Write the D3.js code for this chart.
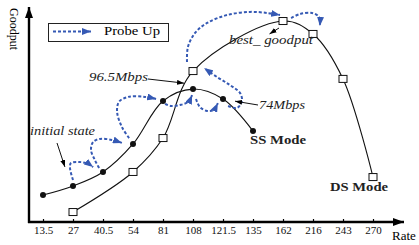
<!DOCTYPE html>
<html>
<head>
<meta charset="utf-8">
<script src="https://cdn.jsdelivr.net/npm/d3@7"></script>
<style>
	body { margin: 0; background: #fff; }
	svg { display: block; }
	text { font-family: "Liberation Serif", serif; }
</style>
</head>
<body>
<div id="chart"></div>
<script>
// rate categories on the x axis (Mbps)
var rates = ["13.5", "27", "40.5", "54", "81", "108", "121.5", "135", "162", "216", "243", "270"];

// SS mode: single stream
var ssRates = ["13.5", "27", "40.5", "54", "81", "108", "121.5", "135"];
var ssGoodput = [12.7, 17.0, 23.6, 36.8, 57.1, 62.7, 58.0, 42.9];

// DS mode: dual stream
var dsRates = ["27", "54", "81", "108", "162", "216", "243", "270"];
var dsGoodput = [4.7, 23.6, 39.6, 71.2, 94.8, 88.7, 67.5, 21.2];

// probe-up arrows, waypoints as [rate index, goodput]
var probes = [
	[[1.0, 19.8], [0.9, 25.5], [0.93, 27.8], [1.23, 28.3], [1.5, 27.4], [1.67, 25.9]],
	[[1.87, 25.5], [1.73, 29.2], [1.6, 34.0], [1.67, 37.7], [1.9, 39.2], [2.3, 38.7], [2.63, 37.3]],
	[[2.87, 39.6], [2.63, 44.8], [2.47, 51.9], [2.53, 56.6], [2.83, 59.0], [3.4, 59.0], [3.77, 58.0]],
	[[4.07, 55.7], [4.27, 54.7], [4.57, 55.2], [4.83, 56.6], [4.97, 59.9]],
	[[5.1, 58.0], [5.23, 54.2], [5.47, 52.4], [5.67, 52.8], [5.83, 56.1]],
	[[6.17, 54.7], [6.47, 53.8], [6.63, 57.1], [6.57, 60.8], [6.23, 64.6], [5.8, 68.4], [5.37, 72.6]],
	[[4.8, 75.5], [4.83, 82.5], [5.07, 89.2], [5.47, 93.9], [6.13, 97.6], [6.9, 99.1], [7.47, 98.6], [7.9, 97.6]],
	[[8.27, 96.2], [8.57, 98.1], [8.97, 98.6], [9.2, 96.7], [9.23, 92.5]]
];

var W = 419, H = 245;
var blue = "#3559b4";
var serif = "Liberation Serif";

var svg = d3.select("#chart").append("svg").attr("width", W).attr("height", H);

var x = d3.scalePoint().domain(rates).range([43, 373]);
var xi = d3.scaleLinear().domain([0, rates.length - 1]).range([43, 373]);
var y = d3.scaleLinear().domain([0, 100]).range([222, 10]);

var defs = svg.append("defs");
function marker(id, color, len, wid){
	defs.append("marker")
		.attr("id", id)
		.attr("markerUnits", "userSpaceOnUse")
		.attr("viewBox", "0 0 " + len + " " + wid)
		.attr("refX", len).attr("refY", wid / 2)
		.attr("markerWidth", len).attr("markerHeight", wid)
		.attr("orient", "auto")
	  .append("path")
		.attr("d", "M0,0L" + len + "," + (wid / 2) + "L0," + wid + "Z")
		.attr("fill", color);
}
marker("blueHead", blue, 9, 7);
marker("blackHead", "#000", 7, 5);
marker("axisHead", "#000", 11, 8);

// axes
var xAxis = d3.axisBottom(x).tickSize(-3).tickPadding(4);
var gx = svg.append("g").attr("transform", "translate(0," + y(0) + ")").call(xAxis)
	.attr("font-family", serif);
gx.select(".domain").remove();
gx.selectAll(".tick line").attr("stroke", "#000").attr("stroke-width", 1.2);
gx.selectAll(".tick text").attr("font-size", 11).attr("font-family", serif).attr("fill", "#111");

svg.append("line")
	.attr("x1", 28).attr("x2", 404).attr("y1", y(0)).attr("y2", y(0))
	.attr("stroke", "#000").attr("stroke-width", 2.4)
	.attr("marker-end", "url(#axisHead)");
svg.append("line")
	.attr("x1", 29).attr("x2", 29).attr("y1", y(0) + 1).attr("y2", 7)
	.attr("stroke", "#000").attr("stroke-width", 2.4)
	.attr("marker-end", "url(#axisHead)");

svg.append("text").attr("transform", "translate(10,8) rotate(90)")
	.attr("font-family", serif).attr("font-size", 12).text("Goodput");
svg.append("text").attr("x", 392).attr("y", 240)
	.attr("font-family", serif).attr("font-size", 13).text("Rate");

// curves
var ss = ssRates.map(function(r, i){ return {rate: r, v: ssGoodput[i]}; });
var ds = dsRates.map(function(r, i){ return {rate: r, v: dsGoodput[i]}; });

var line = d3.line()
	.x(function(d){ return x(d.rate); })
	.y(function(d){ return y(d.v); })
	.curve(d3.curveCatmullRom.alpha(0.5));

svg.append("path").datum(ss).attr("d", line)
	.attr("fill", "none").attr("stroke", "#111").attr("stroke-width", 1.1);
svg.append("path").datum(ds).attr("d", line)
	.attr("fill", "none").attr("stroke", "#111").attr("stroke-width", 1.1);

// probe arrows
var probeLine = d3.line()
	.x(function(d){ return xi(d[0]); })
	.y(function(d){ return y(d[1]); })
	.curve(d3.curveCatmullRom.alpha(0.5));

svg.selectAll(".probe").data(probes).enter().append("path")
	.attr("class", "probe")
	.attr("d", probeLine)
	.attr("fill", "none")
	.attr("stroke", blue).attr("stroke-width", 2)
	.attr("stroke-dasharray", "3,2")
	.attr("marker-end", "url(#blueHead)");

// point markers
svg.selectAll(".ss").data(ss).enter().append("circle")
	.attr("cx", function(d){ return x(d.rate); })
	.attr("cy", function(d){ return y(d.v); })
	.attr("r", 3).attr("fill", "#111");

svg.selectAll(".ds").data(ds).enter().append("rect")
	.attr("x", function(d){ return x(d.rate) - 4; })
	.attr("y", function(d){ return y(d.v) - 3.5; })
	.attr("width", 8).attr("height", 7)
	.attr("fill", "#fff").attr("stroke", "#111").attr("stroke-width", 1);

// legend
svg.append("rect").attr("x", 48.5).attr("y", 23.5).attr("width", 120).attr("height", 18)
	.attr("fill", "#fff").attr("stroke", "#222").attr("stroke-width", 1);
svg.append("line").attr("x1", 53).attr("x2", 91).attr("y1", 31.5).attr("y2", 31.5)
	.attr("stroke", blue).attr("stroke-width", 2).attr("stroke-dasharray", "3,2")
	.attr("marker-end", "url(#blueHead)");
svg.append("text").attr("x", 104).attr("y", 35)
	.attr("font-family", serif).attr("font-size", 12.5)
	.attr("textLength", 56).attr("lengthAdjust", "spacingAndGlyphs").text("Probe Up");

// annotations
function note(txt, tx, ty, len, style, weight){
	svg.append("text").attr("x", tx).attr("y", ty)
		.attr("font-family", serif).attr("font-size", 12)
		.attr("font-style", style).attr("font-weight", weight)
		.attr("textLength", len).attr("lengthAdjust", "spacingAndGlyphs")
		.attr("fill", "#222")
		.text(txt);
}
function pointer(x1, y1, x2, y2){
	svg.append("line").attr("x1", x1).attr("y1", y1).attr("x2", x2).attr("y2", y2)
		.attr("stroke", "#111").attr("stroke-width", 1)
		.attr("marker-end", "url(#blackHead)");
}
note("96.5Mbps", 89, 81, 59, "italic", "normal");
pointer(148, 79, xi(4.7), y(65.5));
note("74Mbps", 259, 109, 46, "italic", "normal");
pointer(258, 105, xi(6.4), y(57));
note("best_ goodput", 229, 44, 84, "italic", "normal");
pointer(279, 28, xi(7.55), y(88.7));
note("initial state", 30, 135, 65, "italic", "normal");
pointer(57, 143, xi(0.73), y(26));
note("SS Mode", 250, 144, 56, "normal", "bold");
note("DS Mode", 330, 191, 58, "normal", "bold");
</script>
</body>
</html>
